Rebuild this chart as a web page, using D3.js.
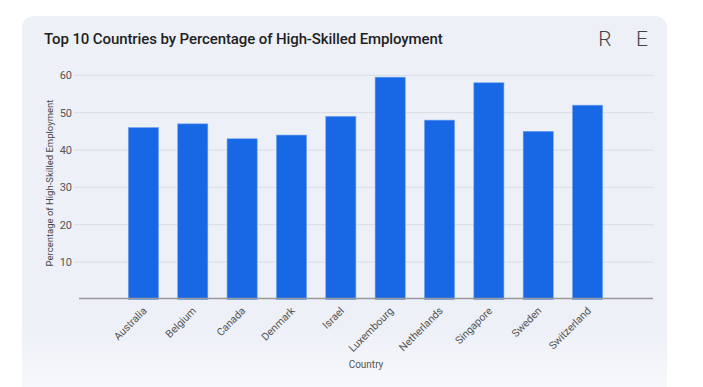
<!DOCTYPE html>
<html>
<head>
<meta charset="utf-8">
<script src="https://cdn.jsdelivr.net/npm/d3@7"></script>
<style>
  body { margin: 0; background: #fff; }
  svg { display: block; font-family: Roboto, "Noto Sans", sans-serif; }
</style>
</head>
<body>
<svg id="chart" width="703" height="387"></svg>
<script>
// Data
const countries = ["Australia", "Belgium", "Canada", "Denmark", "Israel",
  "Luxembourg", "Netherlands", "Singapore", "Sweden", "Switzerland"];
const shares = [46, 47, 43, 44, 49, 59.5, 48, 58, 45, 52];
const yTicks = [10, 20, 30, 40, 50, 60];

const data = countries.map((c, i) => ({ country: c, value: shares[i] }));

const svg = d3.select("#chart");

// Card background with fade to white at the bottom
const defs = svg.append("defs");
const grad = defs.append("linearGradient")
  .attr("id", "cardFade")
  .attr("x1", 0).attr("x2", 0).attr("y1", 0).attr("y2", 1);
grad.append("stop").attr("offset", "0.78").attr("stop-color", "#edf0f7");
grad.append("stop").attr("offset", "1").attr("stop-color", "#fbfcfe");

svg.append("rect")
  .attr("x", 22).attr("y", 16)
  .attr("width", 645).attr("height", 400)
  .attr("rx", 12)
  .attr("fill", "url(#cardFade)");

// Title and header icons
svg.append("text")
  .attr("x", 44).attr("y", 44)
  .attr("font-size", "15px")
  .attr("font-weight", 500)
  .attr("letter-spacing", "-0.1px")
  .attr("fill", "#1f1f1f")
  .text("Top 10 Countries by Percentage of High-Skilled Employment");

svg.append("text")
  .attr("x", 605).attr("y", 46)
  .attr("text-anchor", "middle")
  .attr("font-size", "21px")
  .attr("font-weight", 300)
  .attr("fill", "#444")
  .text("R");

svg.append("text")
  .attr("x", 642).attr("y", 46)
  .attr("text-anchor", "middle")
  .attr("font-size", "21px")
  .attr("font-weight", 300)
  .attr("fill", "#444")
  .text("E");

// Scales
const xScale = d3.scaleBand()
  .domain(countries)
  .range([118.5, 612.5])
  .paddingInner(0.39)
  .paddingOuter(0.2);

const yScale = d3.scaleLinear()
  .domain([0, 60])
  .range([299.4, 75.3]);

// Gridlines
svg.append("g")
  .selectAll("line")
  .data(yTicks)
  .join("line")
  .attr("x1", 74).attr("x2", 653)
  .attr("y1", d => yScale(d)).attr("y2", d => yScale(d))
  .attr("stroke", "#d9dce3")
  .attr("stroke-width", 1);

// Y axis labels
const yAxis = svg.append("g")
  .attr("transform", "translate(72,0)")
  .call(d3.axisLeft(yScale).tickValues(yTicks).tickSize(0).tickPadding(0));
yAxis.select(".domain").remove();
yAxis.selectAll("text")
  .attr("font-size", "11px")
  .attr("fill", "#555")
  .attr("font-family", "Roboto, sans-serif");

// Y axis title
svg.append("text")
  .attr("transform", "rotate(-90)")
  .attr("x", -183)
  .attr("y", 53)
  .attr("text-anchor", "middle")
  .attr("font-size", "9.5px")
  .attr("fill", "#444")
  .text("Percentage of High-Skilled Employment");

// Bars
svg.append("g")
  .selectAll("rect")
  .data(data)
  .join("rect")
  .attr("x", d => xScale(d.country))
  .attr("y", d => yScale(d.value))
  .attr("width", xScale.bandwidth())
  .attr("height", d => yScale(0) - yScale(d.value))
  .attr("fill", "#1868e5")
  .attr("stroke", "#6ea1ee")
  .attr("stroke-width", 0.6);

// X axis
const xAxis = svg.append("g")
  .attr("transform", "translate(0,298.5)")
  .call(d3.axisBottom(xScale).tickSize(0).tickPadding(0));
xAxis.select(".domain").remove();
xAxis.selectAll("text")
  .attr("font-size", "10.5px")
  .attr("fill", "#555")
  .attr("font-family", "Roboto, sans-serif")
  .attr("text-anchor", "end")
  .attr("dy", null)
  .attr("transform", "translate(4,13) rotate(-45)");

svg.append("line")
  .attr("x1", 79).attr("x2", 653)
  .attr("y1", 298.5).attr("y2", 298.5)
  .attr("stroke", "#999")
  .attr("stroke-width", 1.5);

// X axis title
svg.append("text")
  .attr("x", 366).attr("y", 368)
  .attr("text-anchor", "middle")
  .attr("font-size", "10px")
  .attr("fill", "#555")
  .text("Country");
</script>
</body>
</html>
